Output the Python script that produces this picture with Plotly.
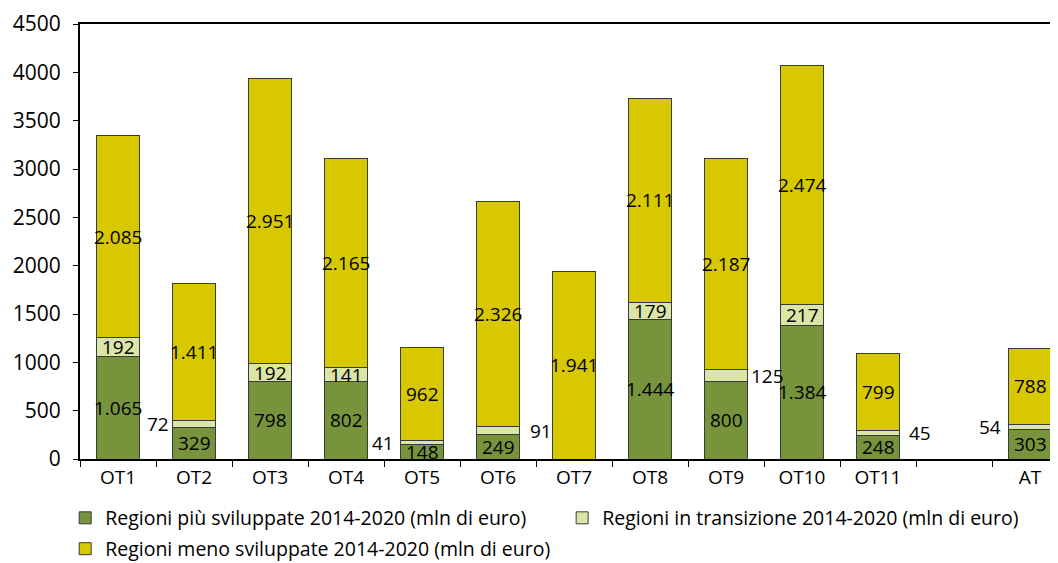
import plotly.graph_objects as go

categories = ["OT1", "OT2", "OT3", "OT4", "OT5", "OT6", "OT7", "OT8", "OT9", "OT10", "OT11", " ", "AT"]
piu_sviluppate = [1065, 329, 798, 802, 148, 249, 0, 1444, 800, 1384, 248, None, 303]
in_transizione = [192, 72, 192, 141, 41, 91, 0, 179, 125, 217, 45, None, 54]
meno_sviluppate = [2085, 1411, 2951, 2165, 962, 2326, 1941, 2111, 2187, 2474, 799, None, 788]
series_names = [
    "Regioni più sviluppate 2014-2020 (mln di euro)",
    "Regioni in transizione 2014-2020 (mln di euro)",
    "Regioni meno sviluppate 2014-2020 (mln di euro)",
]
y_ticks = [0, 500, 1000, 1500, 2000, 2500, 3000, 3500, 4000, 4500]

# style
colors = ["#77933C", "#DAE5A6", "#D8C800"]
FONT = "Open Sans"
FS = 19
# labels of the transition series placed outside the bar: (side, gap px)
outside_labels = {"OT2": ("left", 2), "OT5": ("left", 5), "OT6": ("right", 8),
                  "OT9": ("right", 1), "OT11": ("right", 7), "AT": ("left", 6)}
HALF_BAR = 21.5


def fmt(v):
    return f"{v:,}".replace(",", ".")


series = [piu_sviluppate, in_transizione, meno_sviluppate]
legend_ids = ["legend", "legend2", "legend3"]
fig = go.Figure()
for name, vals, col, lg in zip(series_names, series, colors, legend_ids):
    fig.add_trace(go.Bar(
        x=categories, y=vals, name=name, legend=lg, showlegend=True,
        marker=dict(color=col, line=dict(color="#3a3a3a", width=1)),
    ))

annotations = []
for i, cat in enumerate(categories):
    base = 0
    for s_idx, vals in enumerate(series):
        v = vals[i]
        if v is None or v == 0:
            continue
        mid = base + v / 2
        base += v
        ann = dict(x=cat, y=mid, xref="x", yref="y", text=fmt(v), showarrow=False,
                   font=dict(family=FONT, size=FS, color="black"), yanchor="middle")
        if s_idx == 1 and cat in outside_labels:
            side, gap = outside_labels[cat]
            if side == "left":
                ann.update(xanchor="right", xshift=-(HALF_BAR + gap))
            else:
                ann.update(xanchor="left", xshift=HALF_BAR + gap)
        else:
            ann.update(xanchor="center")
        annotations.append(ann)

leg_common = dict(orientation="h", xanchor="left", yanchor="middle",
                  font=dict(family=FONT, size=19.5), itemwidth=30,
                  bgcolor="rgba(0,0,0,0)")
fig.update_layout(
    barmode="stack",
    bargap=0.434,
    showlegend=True,
    width=1060, height=555,
    margin=dict(l=72, r=0, t=16, b=104, autoexpand=False),
    paper_bgcolor="white", plot_bgcolor="white",
    font=dict(family=FONT, size=FS, color="black"),
    annotations=annotations,
    legend=dict(x=-0.015, y=-0.136, **leg_common),
    legend2=dict(x=0.488, y=-0.136, **leg_common),
    legend3=dict(x=-0.015, y=-0.2069, **leg_common),
)
fig.update_xaxes(
    type="category", categoryorder="array", categoryarray=categories,
    range=[-0.5, 12.5], automargin=False,
    showline=True, linecolor="black", linewidth=2, mirror=True,
    ticks="outside", tickson="boundaries", ticklen=6, tickcolor="black",
    showgrid=False, tickfont=dict(family=FONT, size=FS),
)
fig.update_yaxes(
    range=[0, 4500], tickvals=y_ticks, showline=True, linecolor="black", linewidth=2,
    ticks="outside", ticklen=5, tickcolor="black", showgrid=False, zeroline=False,
    tickfont=dict(family=FONT, size=21), automargin=False, ticklabelstandoff=8,
)

fig.write_html("out.html")
